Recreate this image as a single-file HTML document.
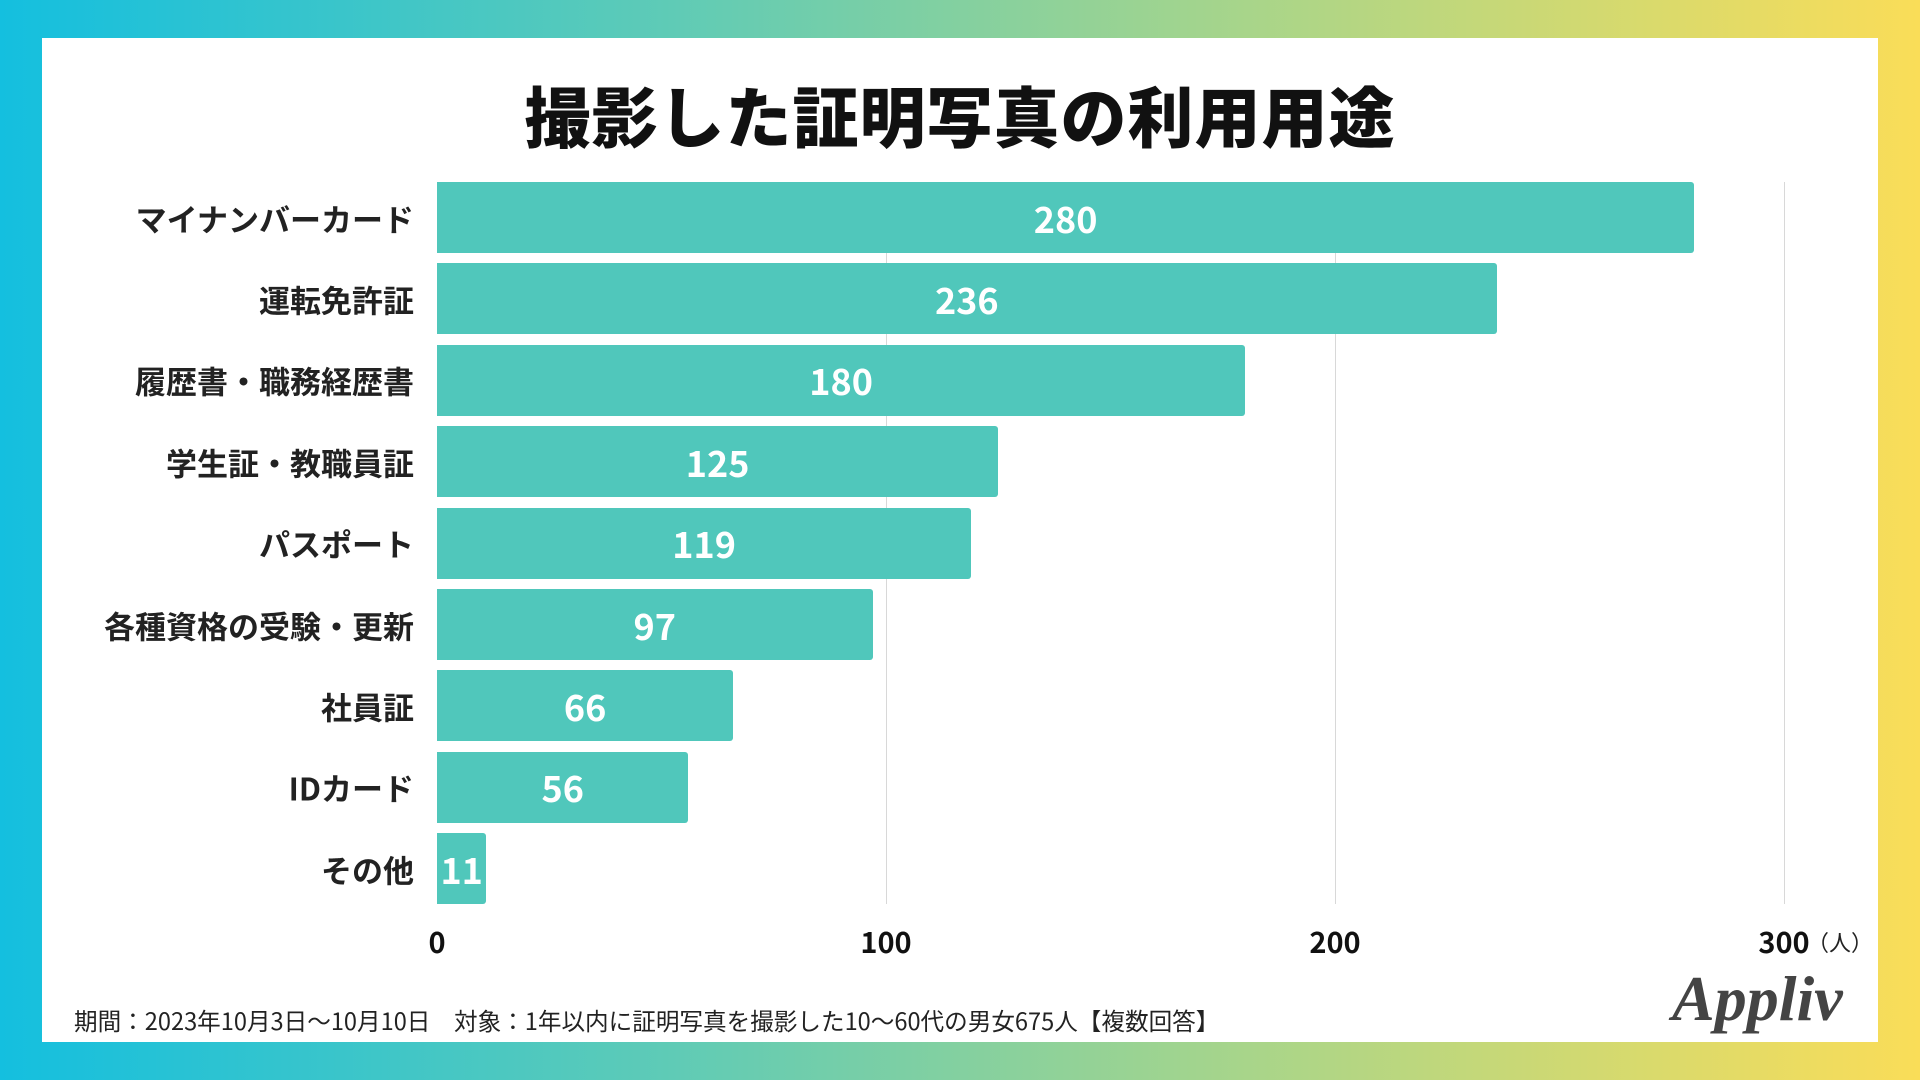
<!DOCTYPE html>
<html><head><meta charset="utf-8">
<style>
html,body{margin:0;padding:0;width:1920px;height:1080px;overflow:hidden}
body{background:linear-gradient(90deg,#14bfdf 0%,#5fcbb6 35%,#a8d58a 65%,#fadd58 100%);font-family:"Liberation Sans","Noto Sans CJK JP",sans-serif;position:relative}
#panel{position:absolute;left:42px;top:38px;width:1836px;height:1004px;background:#fff}
#title{position:absolute;left:0;width:1920px;top:66px;text-align:center;font-size:66px;font-weight:900;color:#111;font-family:"Noto Sans CJK JP",sans-serif;letter-spacing:1px}
.cat{position:absolute;right:1506px;font-size:31px;font-weight:bold;color:#222;font-family:"Noto Sans CJK JP",sans-serif;white-space:nowrap;transform:translateY(-50%)}
.bar{position:absolute;background:#50c7bb;border-radius:0 3px 3px 0}
.val{position:absolute;color:#fff;font-size:36px;font-weight:bold;transform:translate(-50%,-50%);font-family:"Noto Sans CJK JP",sans-serif}
.grid{position:absolute;top:182px;height:722px;width:1px;background:#d8d8d8}
.tick{position:absolute;top:920px;font-size:29px;font-weight:bold;color:#111;transform:translateX(-50%);font-family:"Noto Sans CJK JP",sans-serif}
#foot{position:absolute;left:74px;top:1003px;font-size:23.6px;color:#222;font-family:"Noto Sans CJK JP",sans-serif;white-space:pre}
#logo{position:absolute;left:1672px;top:962px;font-family:"Liberation Serif",serif;font-style:italic;font-weight:bold;font-size:64px;color:#444}
#unit{position:absolute;left:1807px;top:926px;font-size:22px;color:#222;font-family:"Noto Sans CJK JP",sans-serif}
</style></head><body>
<div id="panel"></div>
<div id="title">撮影した証明写真の利用用途</div>
<div id="chart"></div>
<div id="unit">（人）</div>
<div id="foot">期間：2023年10月3日〜10月10日　対象：1年以内に証明写真を撮影した10〜60代の男女675人【複数回答】</div>
<div id="logo">Appliv</div>
<script>
const categories=["マイナンバーカード","運転免許証","履歴書・職務経歴書","学生証・教職員証","パスポート","各種資格の受験・更新","社員証","IDカード","その他"];
const values=[280,236,180,125,119,97,66,56,11];
const ticks=[0,100,200,300];
const x0=437,pxPer=4.49,top0=182,pitch=81.4,bh=71;
const xs=v=>x0+v*pxPer;
const c=document.getElementById('chart');
ticks.forEach(t=>{
  if(t>0){const g=document.createElement('div');g.className='grid';g.style.left=xs(t)+'px';
  
  c.appendChild(g);}
  const l=document.createElement('div');l.className='tick';l.style.left=xs(t)+'px';l.textContent=t;
  
  c.appendChild(l);
});
categories.forEach((cat,i)=>{
  const y=top0+i*pitch;
  const b=document.createElement('div');b.className='bar';
  b.style.left=x0+'px';b.style.top=y+'px';b.style.height=bh+'px';b.style.width=(xs(values[i])-x0)+'px';
  
  c.appendChild(b);
  const v=document.createElement('div');v.className='val';v.textContent=values[i];
  v.style.left=((x0+xs(values[i]))/2)+'px';v.style.top=(y+bh/2)+'px';
  
  c.appendChild(v);
  const l=document.createElement('div');l.className='cat';l.textContent=cat;l.style.top=(y+bh/2)+'px';
  
  c.appendChild(l);
});
</script>
</body></html>
